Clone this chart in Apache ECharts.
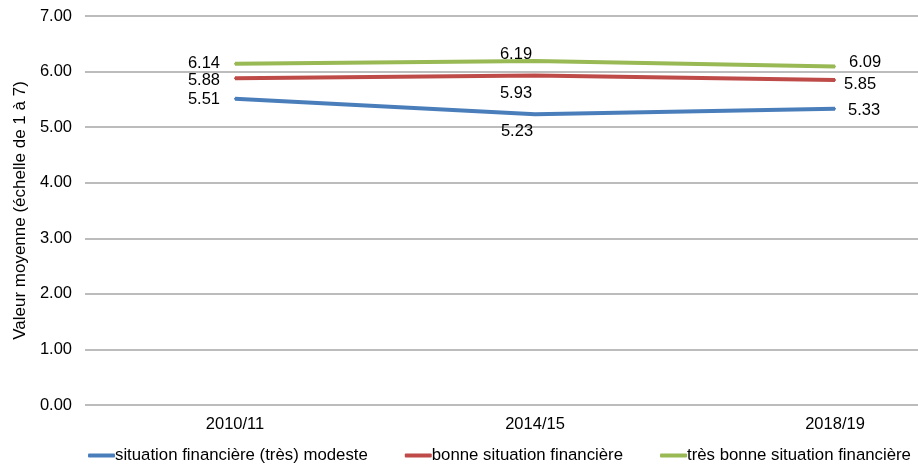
<!DOCTYPE html>
<html><head><meta charset="utf-8">
<script src="https://cdn.jsdelivr.net/npm/echarts@6/dist/echarts.min.js"></script>
<style>html,body{margin:0;padding:0;background:#fff}#c{width:918px;height:465px}</style>
</head><body><div id="c"></div>
<script>
const categories = ['2010/11', '2014/15', '2018/19'];
const seriesNames = ['situation financière (très) modeste', 'bonne situation financière', 'très bonne situation financière'];
const modeste = [5.51, 5.23, 5.33];
const bonne = [5.88, 5.93, 5.85];
const tresBonne = [6.14, 6.19, 6.09];
const yTicks = [0, 1, 2, 3, 4, 5, 6, 7];

const colors = ['#4a7ebb', '#be4b48', '#98b954'];
const FONT = 'Liberation Sans, Helvetica, Arial, sans-serif';
function lbl(pos, dist, off) {
  const o = {show: true, position: pos, distance: dist, color: '#000', fontSize: 16.5, fontFamily: FONT, formatter: p => p.value.toFixed(2)};
  if (off) o.offset = off;
  return o;
}
function mk(vals, labels) {
  return vals.map((v, i) => ({value: v, label: labels[i]}));
}
function ser(i, vals, labels) {
  return {name: seriesNames[i], type: 'line', symbol: 'circle', symbolSize: 2, showSymbol: true,
    itemStyle: {color: colors[i]}, lineStyle: {width: 4, color: colors[i]},
    label: {show: true}, data: mk(vals, labels)};
}
const chart = echarts.init(document.getElementById('c'));
chart.setOption({
  animation: false,
  color: colors,
  grid: {left: 85, right: -67, top: 16, bottom: 60, outerBoundsMode: 'none', containLabel: false},
  legend: {
    top: 447, left: 88, width: 900, padding: 0, itemGap: 37, itemWidth: 27, itemHeight: 4,
    icon: 'roundRect',
    textStyle: {fontSize: 16.8, fontFamily: FONT, color: '#000', padding: [0,0,0,-5]},
    data: seriesNames
  },
  xAxis: {
    type: 'category', data: categories, boundaryGap: true,
    axisLine: {show: false}, axisTick: {show: false},
    axisLabel: {color: '#000', fontSize: 16.5, fontFamily: FONT, margin: 11}
  },
  yAxis: {
    type: 'value', min: yTicks[0], max: yTicks[yTicks.length - 1], interval: 1,
    name: 'Valeur moyenne (échelle de 1 à 7)', nameLocation: 'middle', nameGap: 53,
    nameTextStyle: {color: '#000', fontSize: 17, fontFamily: FONT},
    axisLine: {show: false}, axisTick: {show: false},
    axisLabel: {color: '#000', fontSize: 16.5, fontFamily: FONT, margin: 13, formatter: v => v.toFixed(2)},
    splitLine: {lineStyle: {color: '#a6a6a6', width: 1.5}}
  },
  series: [
    ser(0, modeste, [lbl('left', 14, [0, 1]), lbl('bottom', 8, [-18, 0]), lbl('right', 14, [-2, 2])]),
    ser(1, bonne, [lbl('left', 14, [0, 2]), lbl('bottom', 9, [-19, -1]), lbl('right', 14, [-6, 5])]),
    ser(2, tresBonne, [lbl('left', 14, [0, 0]), lbl('top', 1, [-19, 4]), lbl('right', 14, [-1, -4])])
  ]
});
</script></body></html>
